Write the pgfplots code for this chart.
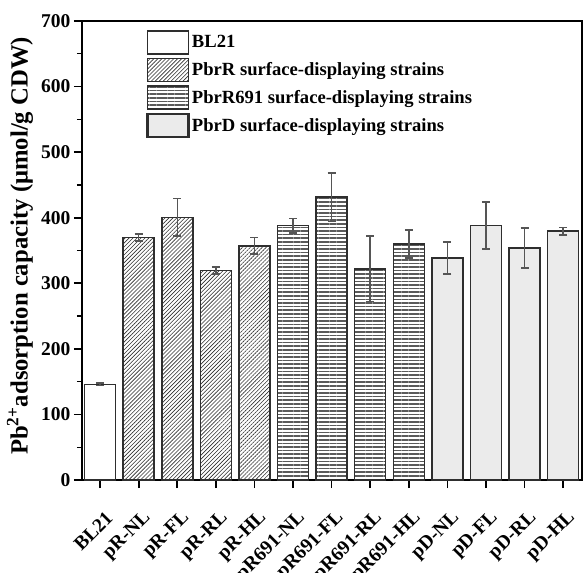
\documentclass[border=0pt]{standalone}
\usepackage{fontspec}
\setmainfont{Liberation Serif}
\usepackage{pgfplots}
\pgfplotsset{compat=1.18}
\usetikzlibrary{patterns,patterns.meta}
\definecolor{edge}{HTML}{2E2E2E}
\definecolor{errgray}{HTML}{555555}
\definecolor{dfill}{HTML}{EBEBEB}
\definecolor{hline}{HTML}{5A5A5A}

\begin{document}
\begin{tikzpicture}
\useasboundingbox (-82pt,-93pt) rectangle (502pt,480pt);
\begin{axis}[
    at={(0,0)}, anchor=south west,
    scale only axis, width=500pt, height=459pt,
    ymin=0, ymax=700, ytick={0,100,...,700}, minor y tick num=1,
    xmin=-0.47, xmax=12.49, xtick={0,...,12},
    xticklabels={BL21,pR-NL,pR-FL,pR-RL,pR-HL,pR691-NL,pR691-FL,pR691-RL,pR691-HL,pD-NL,pD-FL,pD-RL,pD-HL},
    tick align=outside, xtick pos=bottom, ytick pos=left,
    major tick length=8pt, minor tick length=5pt,
    axis line style={line width=2pt},
    major tick style={line width=1.6pt, black},
    minor tick style={line width=1.4pt, black},
    /pgf/number format/assume math mode=true,
    ticklabel style={font=\bfseries\fontsize{19.5}{19.5}\selectfont},
    xticklabel style={xshift=10pt, yshift=-26pt, rotate=45, anchor=east, inner sep=1pt},
    ylabel={Pb\textsuperscript{2+}adsorption capacity (μmol/g CDW)},
    ylabel style={font=\bfseries\fontsize{24.7}{24.7}\selectfont},
    every axis y label/.append style={at={(axis description cs:-0.124,0.51)}, anchor=center},
    ybar, bar width=31pt, bar shift=0pt,
    area legend,
    legend style={draw=none, fill=none, at={(rel axis cs:0.122,0.985)}, anchor=north west,
        font=\bfseries\fontsize{18.6}{18.6}\selectfont, row sep=3pt,
        /tikz/every even column/.append style={column sep=3pt}},
    legend image code/.code={\draw[#1] (0pt,-11.5pt) rectangle (41pt,11.5pt);},
    legend cell align=left,
  ]
  \pgfplotsset{
    errstyle/.style={error bars/.cd, y dir=both, y explicit,
      error bar style={line width=1.5pt, errgray, solid},
      error mark options={rotate=90, mark size=4pt, line width=1.5pt, errgray}},
  }
  % BL21 control
  \addplot[draw=edge, line width=1.5pt, fill=white, errstyle]
    coordinates {(0,146) +- (0,2)};
  % PbrR strains
  \addplot[draw=edge, line width=1.5pt,
    pattern={Lines[angle=45, distance=2.8pt, line width=0.6pt]}, pattern color=edge, errstyle]
    coordinates {(1,370) +- (0,5.5) (2,400.5) +- (0,28.5) (3,319.5) +- (0,5) (4,357) +- (0,12.5)};
  % PbrR691 strains
  \addplot[draw=edge, line width=1.5pt,
    pattern={Lines[angle=0, distance=3.6pt, line width=1.7pt]}, pattern color=hline, errstyle]
    coordinates {(5,388) +- (0,11) (6,431.5) +- (0,37) (7,322) +- (0,50) (8,360) +- (0,21.5)};
  % PbrD strains
  \addplot[draw=edge, line width=1.7pt, fill=dfill,
    legend image post style={line width=2.8pt}, errstyle]
    coordinates {(9,338.5) +- (0,24.5) (10,388) +- (0,36) (11,353.5) +- (0,30.5) (12,379.5) +- (0,5.5)};
  \legend{BL21, PbrR surface-displaying strains, PbrR691 surface-displaying strains, PbrD surface-displaying strains}
\end{axis}
\end{tikzpicture}
\end{document}
